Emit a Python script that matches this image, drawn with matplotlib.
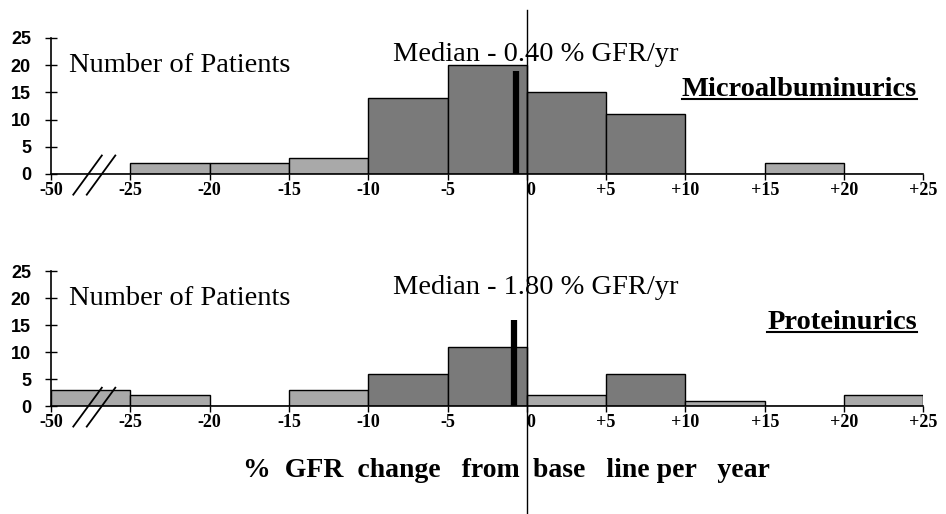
import matplotlib.pyplot as plt
from matplotlib.lines import Line2D

# положения столбцов на оси (левая граница интервала); -50 нарисовано в позиции -30 (разрыв оси)
bin_left = [-30, -25, -20, -15, -10, -5, 0, 5, 10, 15, 20]
tick_pos = [-30, -25, -20, -15, -10, -5, 0, 5, 10, 15, 20, 25]
tick_labels = ['-50', '-25', '-20', '-15', '-10', '-5', '0', '+5', '+10', '+15', '+20', '+25']
y_ticks = [0, 5, 10, 15, 20, 25]

# число пациентов в каждом интервале
micro_counts = [0, 2, 2, 3, 14, 20, 15, 11, 0, 2, 0]
prot_counts = [3, 2, 0, 3, 6, 11, 2, 6, 1, 0, 2]

# медиана (положение на оси и высота маркера) и подписи
micro_median_x, micro_median_h = -0.7, 19
prot_median_x, prot_median_h = -0.8, 16
micro_label = 'Median - 0.40 % GFR/yr'
prot_label = 'Median - 1.80 % GFR/yr'

SERIF = 'Liberation Serif'
SANS = 'Liberation Sans'

fig = plt.figure(figsize=(9.46, 5.14), dpi=100)
ax_top = fig.add_axes([0.054, 0.6615, 0.922, 0.2646])
ax_bot = fig.add_axes([0.054, 0.210, 0.922, 0.2626])


def draw_panel(ax, counts, med_x, med_h, med_label, group):
    colors = ['#7a7a7a' if c >= 5 else '#a9a9a9' for c in counts]
    ax.bar(bin_left, counts, width=5, align='edge', color=colors,
           edgecolor='black', linewidth=1.0, zorder=2)
    ax.plot([med_x, med_x], [0, med_h], color='black', linewidth=4.5,
            solid_capstyle='butt', zorder=4)

    ax.set_xlim(-30, 25)
    ax.set_ylim(0, 25)
    for s in ['top', 'right']:
        ax.spines[s].set_visible(False)
    ax.spines['left'].set_linewidth(1.2)
    ax.spines['bottom'].set_linewidth(1.2)

    ax.set_yticks(y_ticks)
    ax.set_yticklabels([str(v) for v in y_ticks], fontfamily=SANS,
                       fontweight='bold', fontsize=13)
    ax.tick_params(axis='y', direction='inout', length=9, width=1, pad=10)

    ax.set_xticks(tick_pos)
    ax.set_xticklabels(tick_labels, fontfamily=SERIF, fontweight='bold',
                       fontsize=13)
    ax.tick_params(axis='x', direction='out', length=4, width=1, pad=2)
    for lab in ax.get_xticklabels():
        if lab.get_text() == '0':
            lab.set_horizontalalignment('left')
            lab.set_x(0.7)

    # разрыв оси "//"
    for dx in (0, 0.85):
        ax.add_line(Line2D([-28.6 + dx, -26.8 + dx], [-3.8, 3.4], color='black',
                           linewidth=1.3, clip_on=False, zorder=5))

    ax.text(-28.9, 20, 'Number of Patients', fontfamily=SERIF, fontsize=20.5,
            va='center', ha='left')
    ax.text(-8.45, 20.8, med_label, fontfamily=SERIF, fontsize=20.5,
            va='baseline', ha='left')
    t = ax.text(24.6, 14.3, group, fontfamily=SERIF, fontsize=20.5,
                fontweight='bold', va='baseline', ha='right')
    return t


t1 = draw_panel(ax_top, micro_counts, micro_median_x, micro_median_h,
                micro_label, 'Microalbuminurics')
t2 = draw_panel(ax_bot, prot_counts, prot_median_x, prot_median_h,
                prot_label, 'Proteinurics')

# подчёркивание названий групп
fig.canvas.draw()
for t in (t1, t2):
    bb = t.get_window_extent()
    y = (bb.y0 + 3) / fig.bbox.height
    fig.add_artist(Line2D([bb.x0 / fig.bbox.width, bb.x1 / fig.bbox.width], [y, y],
                          transform=fig.transFigure, color='black', linewidth=1.5))

# вертикальная линия через обе панели (нулевое изменение)
x0 = ax_top.transData.transform((0, 0))[0] / fig.bbox.width
fig.add_artist(Line2D([x0, x0], [0.0, 1 - 10 / 514], transform=fig.transFigure,
                      color='black', linewidth=1.0))

fig.text(x0 - 0.008, 0.085, '%  GFR  change   from', fontfamily=SERIF,
         fontweight='bold', fontsize=20, ha='right', va='center')
fig.text(x0 + 0.007, 0.085, 'base   line per   year', fontfamily=SERIF,
         fontweight='bold', fontsize=20, ha='left', va='center')

fig.savefig('out.png', dpi=100)
